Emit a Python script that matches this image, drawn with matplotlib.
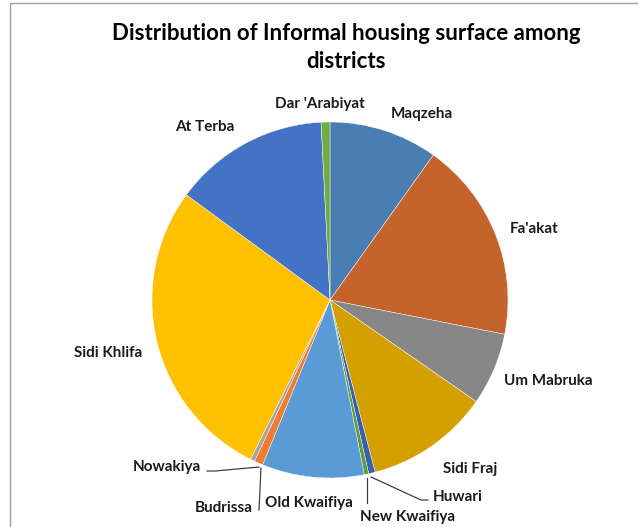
import matplotlib.pyplot as plt
from matplotlib.patches import Rectangle

# district shares of informal housing surface (%), clockwise from 12 o'clock
districts = ["Maqzeha", "Fa'akat", "Um Mabruka", "Sidi Fraj", "Huwari", "New Kwaifiya",
             "Old Kwaifiya", "Budrissa", "Nowakiya", "Sidi Khlifa", "At Terba", "Dar 'Arabiyat"]
shares = [9.9, 18.3, 6.6, 11.3, 0.6, 0.4, 9.3, 0.8, 0.4, 27.8, 14.2, 0.8]
colors = ['#4a7eb3', '#c5642a', '#878787', '#d4a000', '#3a5fae', '#5e9a3a',
          '#5b9bd5', '#ed7d31', '#a5a5a5', '#ffc000', '#4472c4', '#70ad47']

# label positions in pixels (x, y from top) and leader line ends
label_pos = {"Maqzeha": (422, 114), "Fa'akat": (534, 229), "Um Mabruka": (548, 381),
             "Sidi Fraj": (470, 469), "Huwari": (458, 497), "New Kwaifiya": (408, 517),
             "Old Kwaifiya": (309, 503), "Budrissa": (224, 508), "Nowakiya": (167, 467),
             "Sidi Khlifa": (108, 353), "At Terba": (205, 127), "Dar 'Arabiyat": (320, 104)}
leaders = {"Huwari": [(371, 477), (421, 500), (428, 500)],
           "New Kwaifiya": [(367, 478), (367, 503)],
           "Nowakiya": [(259, 467), (215, 471), (207, 471)],
           "Budrissa": [(261, 468), (259, 510)]}

W, H = 638, 527
fig = plt.figure(figsize=(W / 100, H / 100), dpi=100)
ax = fig.add_axes([0, 0, 1, 1])

# chart frame (partly cropped)
ax.add_patch(Rectangle((9.5, -20), W + 20, H - 2.5 + 20, fill=False, ec='#a0a0a0', lw=1))

ax.pie(shares, colors=colors, startangle=90, counterclock=False,
       center=(330, H - 300), radius=178, frame=True,
       wedgeprops={'edgecolor': 'white', 'linewidth': 0.3})
ax.set_xlim(0, W)
ax.set_ylim(0, H)
ax.axis('off')

font = 'Lato'
for name in districts:
    x, y = label_pos[name]
    ax.text(x, H - y, name, ha='center', va='center', fontsize=11,
            fontweight='bold', family=font, color='#1a1a1a')

for name, pts in leaders.items():
    ax.plot([p[0] for p in pts], [H - p[1] for p in pts], color='#404040', lw=0.9)

ax.text(346, H - 34, "Distribution of Informal housing surface among", ha='center',
        va='center', fontsize=16, fontweight='bold', family=font, color='black')
ax.text(346, H - 62, "districts", ha='center', va='center', fontsize=16,
        fontweight='bold', family=font, color='black')

fig.savefig('out.png', dpi=100)
